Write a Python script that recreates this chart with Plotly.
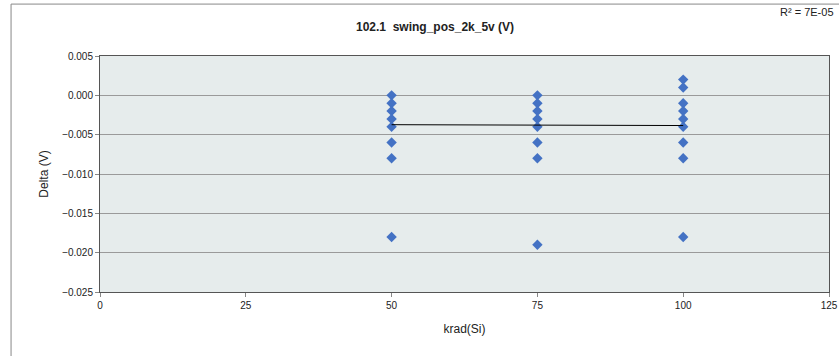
import plotly.graph_objects as go

# measured deltas per dose level
dose_50 = [50] * 8
delta_50 = [0.0, -0.001, -0.002, -0.003, -0.004, -0.006, -0.008, -0.018]
dose_75 = [75] * 8
delta_75 = [0.0, -0.001, -0.002, -0.003, -0.004, -0.006, -0.008, -0.019]
dose_100 = [100] * 9
delta_100 = [0.002, 0.001, -0.001, -0.002, -0.003, -0.004, -0.006, -0.008, -0.018]

# linear trend
trend_x = [50, 100]
trend_y = [-0.00373, -0.00384]

xs = dose_50 + dose_75 + dose_100
ys = delta_50 + delta_75 + delta_100

font = "Liberation Sans, Arial, sans-serif"

fig = go.Figure()
fig.add_trace(go.Scatter(x=xs, y=ys, mode="markers",
                         marker=dict(symbol="diamond", size=8, color="#4472C4"),
                         showlegend=False))
fig.add_trace(go.Scatter(x=trend_x, y=trend_y, mode="lines",
                         line=dict(color="black", width=1), showlegend=False))

fig.update_layout(
    width=839, height=356,
    margin=dict(l=100, r=10, t=56, b=64),
    paper_bgcolor="white", plot_bgcolor="#e6ecec",
    font=dict(family=font, size=10, color="#222"),
    xaxis=dict(range=[0, 125], tickvals=[0, 25, 50, 75, 100, 125], showgrid=False,
               zeroline=False, showline=True, linecolor="#555", linewidth=1, mirror=True,
               ticks="outside", ticklen=4, tickcolor="#888", automargin=False,
               title=dict(text="krad(Si)", font=dict(size=12), standoff=14)),
    yaxis=dict(range=[-0.025, 0.005], dtick=0.005, tickformat=".3f", showgrid=True,
               gridcolor="#9a9a9a", gridwidth=1, zeroline=False, showline=True,
               linecolor="#555", linewidth=1, mirror=True, automargin=False,
               ticks="outside", ticklen=4, tickcolor="#888",
               title=dict(text="Delta (V)", font=dict(size=12), standoff=10)),
    shapes=[dict(type="rect", xref="paper", yref="paper", x0=-0.122, x1=1.2, y0=-0.6, y1=1.22,
                 line=dict(color="#888", width=1), fillcolor="rgba(0,0,0,0)", layer="below")],
    annotations=[
        dict(text="<b>102.1  swing_pos_2k_5v (V)</b>", xref="paper", yref="paper",
             x=0.4595, y=1.123, showarrow=False, font=dict(size=12, color="#222"),
             xanchor="center", yanchor="middle"),
        dict(text="R² = 7E-05", xref="paper", yref="paper", x=(778 - 100) / 729,
             y=1 + (56 - 12) / 236, showarrow=False, font=dict(size=11, color="#222"),
             xanchor="left", yanchor="middle"),
    ],
)

fig.write_html("out.html", config={"displayModeBar": False},
               post_script="document.body.style.margin='0';")
